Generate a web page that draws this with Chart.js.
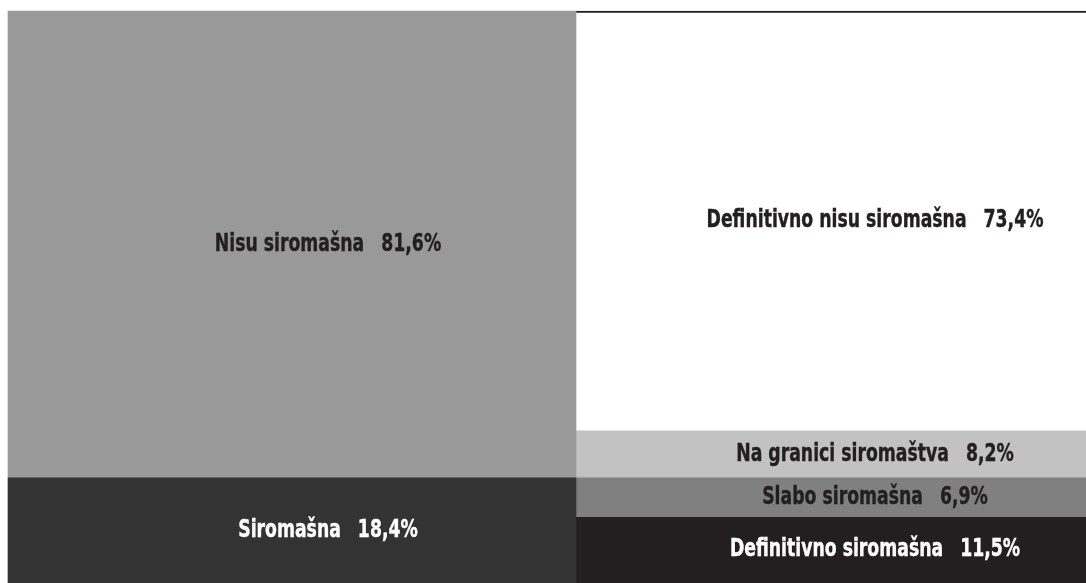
<!DOCTYPE html>
<html>
<head>
<meta charset="utf-8">
<script src="https://cdn.jsdelivr.net/npm/chart.js@4"></script>
<style>
  html, body { margin: 0; padding: 0; background: #fff; overflow: hidden; }
  #wrap { width: 1101px; height: 583px; position: relative; }
</style>
</head>
<body>
<div id="wrap"><canvas id="myChart"></canvas></div>
<script>
// dvije kolone: ukupno i po stepenu siromaštva
var kolone = ['Ukupno', 'Po stepenu']

var ukupnoNazivi = ['Siromašna', 'Nisu siromašna']
var ukupnoVrijednosti = [18.4, 81.6]

var stepenNazivi = ['Definitivno siromašna', 'Slabo siromašna', 'Na granici siromaštva', 'Definitivno nisu siromašna']
var stepenVrijednosti = [11.5, 6.9, 8.2, 73.4]

var ukupnoBoje = ['#333333', '#999999']
var ukupnoTekst = ['#ffffff', '#231f20']
var stepenBoje = ['#231f20', '#808080', '#c2c2c2', '#ffffff']
var stepenTekst = ['#ffffff', '#231f20', '#231f20', '#231f20']

var FONT = '"DejaVu Sans Condensed", sans-serif'
var SUZENJE = 0.8   // uzi, kondenzovani izgled slova

var skupovi = []
ukupnoNazivi.forEach(function (naziv, i) {
    skupovi.push({
        label: naziv,
        data: [ukupnoVrijednosti[i], null],
        backgroundColor: ukupnoBoje[i],
        tekstBoja: ukupnoTekst[i],
        pomak: 36,
        barThickness: 568,
        clip: false
    })
})
stepenNazivi.forEach(function (naziv, i) {
    var d = {
        label: naziv,
        data: [null, stepenVrijednosti[i]],
        backgroundColor: stepenBoje[i],
        tekstBoja: stepenTekst[i],
        pomak: 44,
        barThickness: 510,
        clip: false
    }
    // tanka linija na vrhu bijelog dijela
    if (i === stepenNazivi.length - 1) {
        d.borderWidth = { top: 2, left: 0, right: 0, bottom: 0 }
        d.borderColor = '#231f20'
        d.borderSkipped = false
    }
    skupovi.push(d)
})

// ispis naziva i procenta u sredini svakog dijela
var natpisi = {
    id: 'natpisi',
    afterDatasetsDraw: function (chart) {
        var c = chart.ctx
        c.save()
        c.font = 'bold 24px ' + FONT
        c.textBaseline = 'middle'
        c.textAlign = 'left'
        chart.data.datasets.forEach(function (ds, di) {
            var meta = chart.getDatasetMeta(di)
            ds.data.forEach(function (v, i) {
                if (v === null) return
                var el = meta.data[i]
                var naziv = ds.label
                var broj = v.toFixed(1).replace('.', ',') + '%'
                var razmak = 17 / SUZENJE
                var w1 = c.measureText(naziv).width
                var w2 = c.measureText(broj).width
                var ukupno = (w1 + razmak + w2) * SUZENJE
                var x = el.x + ds.pomak - ukupno / 2
                var y = (el.y + el.base) / 2
                c.save()
                c.translate(x, y)
                c.scale(SUZENJE, 1)
                c.fillStyle = ds.tekstBoja
                c.strokeStyle = ds.tekstBoja
                c.lineWidth = 0.4
                c.fillText(naziv, 0, 0)
                c.strokeText(naziv, 0, 0)
                c.fillText(broj, w1 + razmak, 0)
                c.strokeText(broj, w1 + razmak, 0)
                c.restore()
            })
        })
        c.restore()
    }
}

var ctx = document.getElementById('myChart')
var grafik = new Chart(ctx, {
    type: 'bar',
    data: {
        labels: kolone,
        datasets: skupovi
    },
    options: {
        responsive: true,
        maintainAspectRatio: false,
        animation: false,
        layout: { padding: { left: 22.5, right: 0.5, top: 11, bottom: 0 } },
        plugins: {
            legend: { display: false },
            tooltip: { enabled: false }
        },
        scales: {
            x: { stacked: true, display: false },
            y: { stacked: true, display: false, min: 0, max: 100 }
        }
    },
    plugins: [natpisi]
})
</script>
</body>
</html>
